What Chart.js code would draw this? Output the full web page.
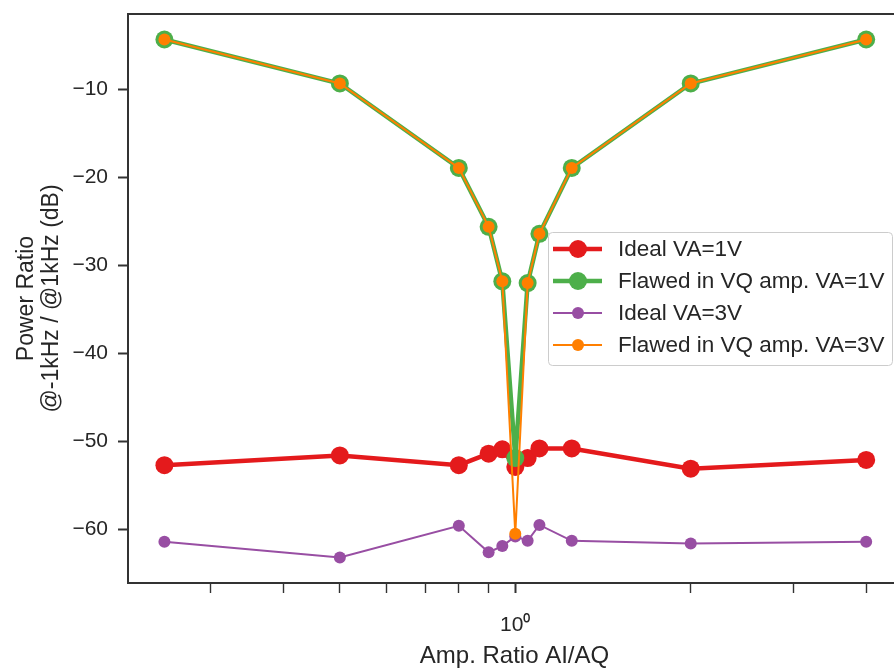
<!DOCTYPE html>
<html>
<head>
<meta charset="utf-8">
<script src="https://cdn.jsdelivr.net/npm/chart.js@4"></script>
<style>
  html, body { margin: 0; padding: 0; background: #fff; overflow: hidden; }
  #wrap { width: 910px; height: 671px; }
</style>
</head>
<body>
<div id="wrap"><canvas id="chart" width="910" height="671"></canvas></div>
<script>
'use strict';

// amplitude ratio AI/AQ (x, log scale)
const ampRatio = [0.25, 0.5, 0.8, 0.9, 0.95, 1.0, 1.05, 1.1, 1.25, 2, 4];

// power ratio @-1kHz / @1kHz in dB
const idealVA1 = [-52.7, -51.6, -52.7, -51.4, -50.9, -52.9, -51.9, -50.8, -50.8, -53.1, -52.1];
const flawedVA1 = [-4.3, -9.3, -18.9, -25.6, -31.8, -51.9, -32.0, -26.4, -18.9, -9.3, -4.3];
const idealVA3 = [-61.4, -63.2, -59.6, -62.6, -61.9, -60.8, -61.3, -59.5, -61.3, -61.6, -61.4];
const flawedVA3 = [-4.3, -9.3, -18.9, -25.6, -31.8, -60.5, -32.0, -26.4, -18.9, -9.3, -4.3];

const seriesLabels = ['Ideal VA=1V', 'Flawed in VQ amp. VA=1V', 'Ideal VA=3V', 'Flawed in VQ amp. VA=3V'];

const xTicks = [0.3, 0.4, 0.5, 0.6, 0.7, 0.8, 0.9, 1, 2, 3, 4];
const yTicks = [-60, -50, -40, -30, -20, -10];

const ink = '#262626';
const FONT = "'Liberation Sans', Arial, sans-serif";

function points(ys) {
    return ampRatio.map((x, i) => ({ x: x, y: ys[i] }));
}

function series(label, ys, color, lw, r, order) {
    return {
        label: label,
        data: points(ys),
        borderColor: color,
        backgroundColor: color,
        borderWidth: lw,
        pointRadius: r,
        pointHoverRadius: r,
        pointBorderWidth: 0,
        pointBackgroundColor: color,
        tension: 0,
        order: order
    };
}

// frame round the plot (matplotlib spines)
const framePlugin = {
    id: 'frame',
    afterDatasetsDraw(chart) {
        const a = chart.chartArea;
        const ctx = chart.ctx;
        ctx.save();
        ctx.strokeStyle = '#333';
        ctx.lineWidth = 2;
        ctx.strokeRect(a.left, a.top, a.right - a.left, a.bottom - a.top);
        ctx.restore();
    }
};

// legend box inside the axes, right side
const boxLegend = {
    id: 'boxLegend',
    afterDraw(chart) {
        const ctx = chart.ctx;
        const bx = 548, by = 232, bw = 344, bh = 133;
        ctx.save();
        ctx.beginPath();
        ctx.roundRect(bx + 0.5, by + 0.5, bw, bh, 4);
        ctx.fillStyle = 'rgba(255,255,255,0.8)';
        ctx.fill();
        ctx.strokeStyle = '#cccccc';
        ctx.lineWidth = 1;
        ctx.stroke();

        ctx.font = '22.5px ' + FONT;
        ctx.textBaseline = 'middle';
        ctx.textAlign = 'left';
        chart.data.datasets.forEach((ds, i) => {
            const y = by + 17 + i * 32;
            ctx.strokeStyle = ds.borderColor;
            ctx.lineWidth = ds.borderWidth;
            ctx.beginPath();
            ctx.moveTo(bx + 5, y);
            ctx.lineTo(bx + 54, y);
            ctx.stroke();
            ctx.fillStyle = ds.borderColor;
            ctx.beginPath();
            ctx.arc(bx + 30, y, ds.pointRadius, 0, Math.PI * 2);
            ctx.fill();
            ctx.fillStyle = ink;
            ctx.fillText(ds.label, bx + 70, y + 1);
        });
        ctx.restore();
    }
};

const chart = new Chart(document.getElementById('chart'), {
    type: 'line',
    data: {
        datasets: [
            series(seriesLabels[0], idealVA1, '#e41a1c', 4.5, 9, 3),
            series(seriesLabels[1], flawedVA1, '#4daf4a', 4.5, 9, 2),
            series(seriesLabels[2], idealVA3, '#984ea3', 2, 6, 1),
            series(seriesLabels[3], flawedVA3, '#ff7f00', 2, 6, 0)
        ]
    },
    options: {
        responsive: false,
        animation: false,
        devicePixelRatio: 1,
        layout: { padding: { left: 0, top: 14, right: 6, bottom: 0 } },
        plugins: {
            legend: { display: false },
            tooltip: { enabled: false }
        },
        scales: {
            x: {
                type: 'logarithmic',
                min: 0.2165,
                max: 4.59,
                afterBuildTicks(scale) {
                    scale.ticks = xTicks.map(v => ({ value: v, major: v === 1 }));
                },
                afterFit(scale) {
                    scale.height = 88;
                    scale.paddingLeft = 0;
                    scale.paddingRight = 0;
                },
                border: { display: false },
                grid: {
                    drawOnChartArea: false,
                    drawTicks: true,
                    tickLength: 10,
                    tickColor: '#333',
                    tickWidth: ctx => (ctx.tick && ctx.tick.value === 1 ? 2 : 1.4)
                },
                ticks: {
                    autoSkip: false,
                    maxRotation: 0,
                    padding: 20,
                    color: ink,
                    font: { family: FONT, size: 21 },
                    callback: v => (v === 1 ? '10\u2070' : '')
                },
                title: {
                    display: true,
                    text: 'Amp. Ratio AI/AQ',
                    color: ink,
                    font: { family: FONT, size: 24 },
                    padding: { top: 0, bottom: 0 }
                }
            },
            y: {
                type: 'linear',
                min: -66.1,
                max: -1.4,
                afterBuildTicks(scale) {
                    scale.ticks = yTicks.map(v => ({ value: v }));
                },
                afterFit(scale) {
                    scale.width = 128;
                    scale.paddingTop = 0;
                    scale.paddingBottom = 0;
                },
                border: { display: false },
                grid: {
                    drawOnChartArea: false,
                    drawTicks: true,
                    tickLength: 10,
                    tickColor: '#333',
                    tickWidth: 2
                },
                ticks: {
                    padding: 10,
                    color: ink,
                    font: { family: FONT, size: 21 },
                    callback: v => (v < 0 ? '\u2212' + Math.abs(v) : String(v))
                },
                title: {
                    display: true,
                    text: ['Power Ratio', '@-1kHz / @1kHz (dB)'],
                    color: ink,
                    font: { family: FONT, size: 23, lineHeight: 1.05 },
                    padding: { top: 15, bottom: 0 }
                }
            }
        }
    },
    plugins: [framePlugin, boxLegend]
});
</script>
</body>
</html>
